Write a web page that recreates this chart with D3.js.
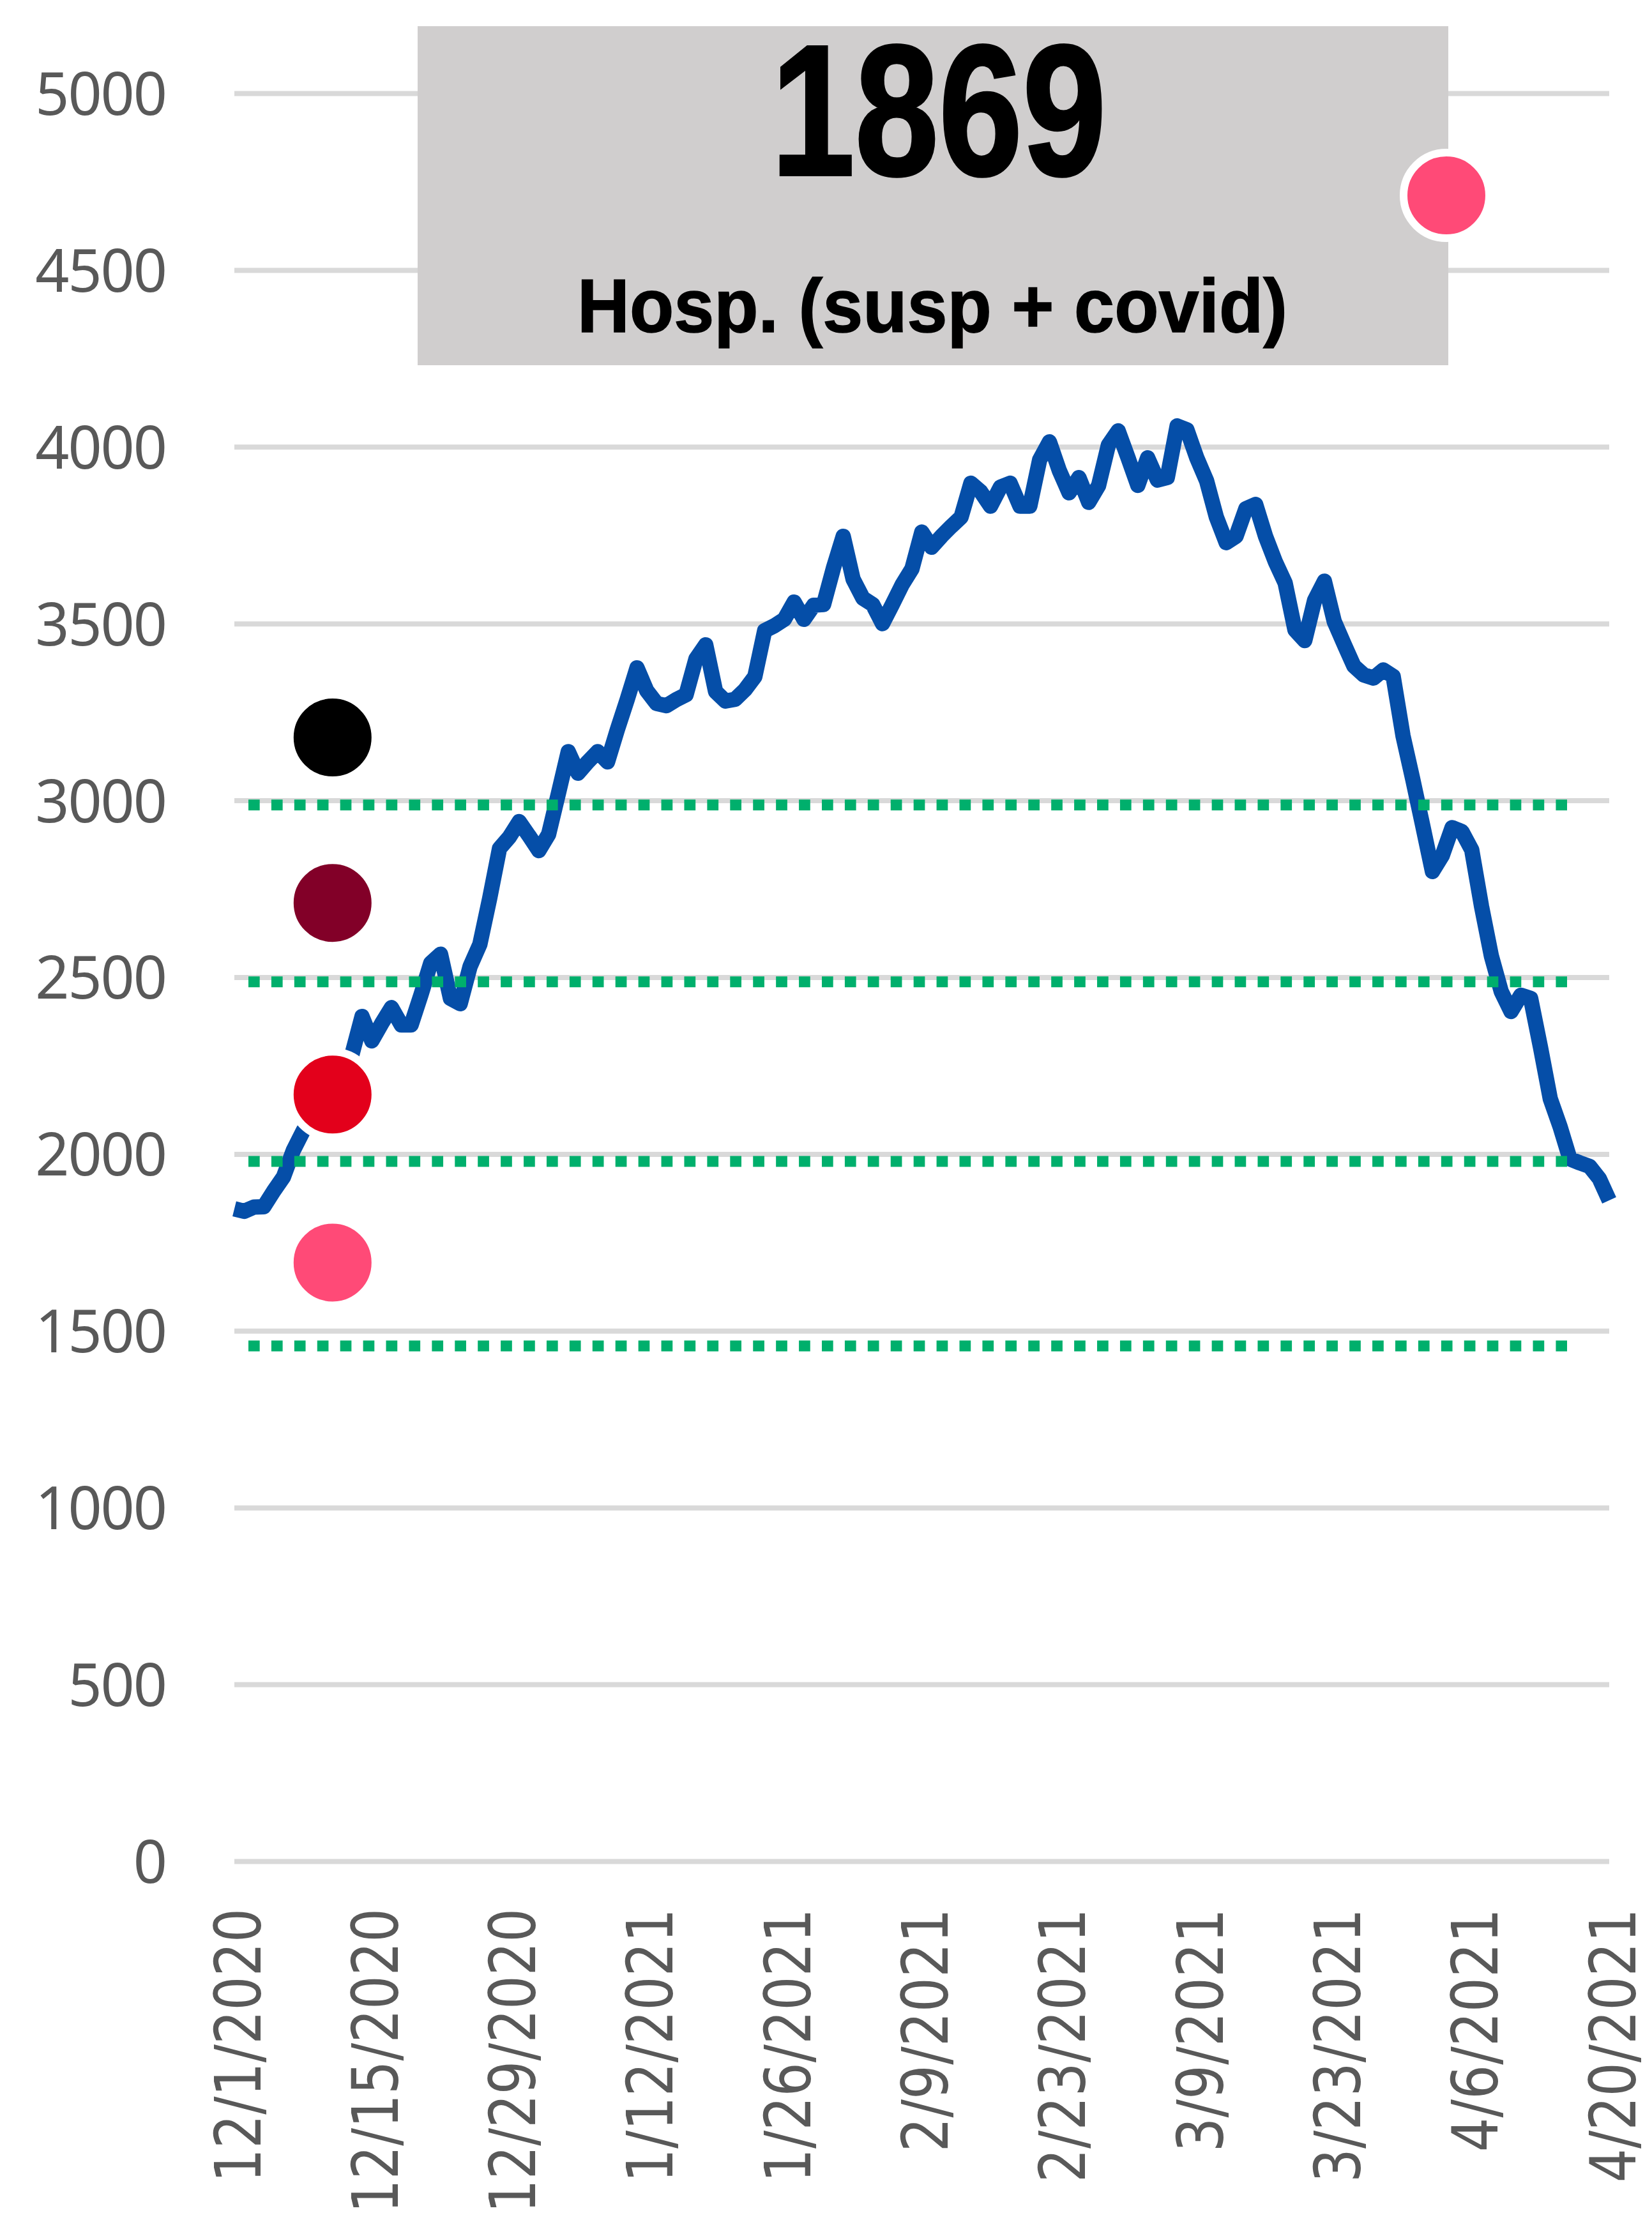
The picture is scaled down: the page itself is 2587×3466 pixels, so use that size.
<!DOCTYPE html>
<html><head><meta charset="utf-8">
<script src="https://cdn.jsdelivr.net/npm/d3@7"></script>
<style>html,body{margin:0;padding:0;background:#fff;} svg{display:block;}</style>
</head><body>
<script>
// ---------------- data ----------------
const startDate = "2020-12-01";
const hospValues = [
 1845,1838,1850,1851,1895,1935,2010,2065,2110,2150,
 2190,2235,2284,2389,2320,2369,2414,2365,2365,2450,
 2540,2565,2440,2425,2530,2593,2723,2864,2896,2940,
 2900,2858,2904,3020,3138,3077,3109,3138,3109,3200,
 3285,3375,3310,3274,3268,3285,3299,3400,3440,3308,
 3281,3286,3313,3350,3480,3494,3512,3561,3512,3552,
 3554,3657,3747,3626,3572,3554,3500,3554,3610,3655,
 3759,3716,3747,3775,3801,3897,3873,3832,3886,3897,
 3832,3832,3963,4014,3933,3870,3913,3843,3890,4005,
 4045,3969,3891,3969,3906,3913,4059,4048,3969,3904,
 3801,3729,3747,3825,3837,3747,3675,3615,3482,3452,
 3566,3620,3506,3442,3380,3355,3346,3369,3351,3183,
 3059,2930,2799,2844,2923,2912,2860,2700,2560,2460,
 2403,2449,2440,2302,2156,2077,1986,1975,1965,1930,
 1869
];
const xTickLabels = ["12/1/2020","12/15/2020","12/29/2020","1/12/2021","1/26/2021","2/9/2021","2/23/2021","3/9/2021","3/23/2021","4/6/2021","4/20/2021"];
const yTicks = [0,500,1000,1500,2000,2500,3000,3500,4000,4500,5000];
const thresholdValues = [2987, 2487, 1979, 1457];
const thresholdSpan = ["2020-12-02T10:20", "2021-04-15T17:00"];
const markerValues = [3178, 2710, 2168, 1693];
const markerColors = ["#000000", "#820028", "#e3001b", "#ff4a77"];
const markerDate = "2020-12-11T00:00";
const highlightValue = 4711;
const highlightDate = "2021-04-03T10:00";
const highlightColor = "#ff4a77";
const subtitleText = "Hosp. (susp + covid)";

(function () {
// ---------------- setup ----------------
const W = 2587, H = 3466;
const mLeft = 367, mRight = 2520, mTop = 146, mBottom = 2915;
const parseDay = d3.timeParse("%Y-%m-%d");
const parseDT = d3.timeParse("%Y-%m-%dT%H:%M");
const parseTick = d3.timeParse("%m/%d/%Y");
const t0 = parseDay(startDate);
const series = hospValues.map((v, i) => ({date: d3.timeDay.offset(t0, i), value: v}));

const x = d3.scaleTime().domain([t0, series[series.length - 1].date]).range([mLeft, mRight]);
const y = d3.scaleLinear().domain([0, 5000]).range([mBottom, mTop]);

const svg = d3.select("body").append("svg").attr("width", W).attr("height", H);

// y axis with gridlines
const yAxis = svg.append("g").attr("transform", `translate(${mLeft},0)`)
  .call(d3.axisLeft(y).tickValues(yTicks).tickSize(-(mRight - mLeft)).tickPadding(107).tickFormat(d3.format("d")));
yAxis.select(".domain").remove();
yAxis.selectAll(".tick line").attr("stroke", "#d9d9d9").attr("stroke-width", 8);
yAxis.selectAll(".tick text")
  .attr("fill", "#595959").attr("font-family", "'Noto Sans', 'Open Sans', sans-serif")
  .attr("font-size", 93).attr("letter-spacing", -2).attr("dy", "0.36em");

// line
svg.append("path").datum(series)
  .attr("fill", "none").attr("stroke", "#054ea8").attr("stroke-width", 24)
  .attr("stroke-linejoin", "round")
  .attr("d", d3.line().x(d => x(d.date)).y(d => y(d.value)));

// threshold dotted lines
svg.append("g").selectAll("line").data(thresholdValues).join("line")
  .attr("x1", x(parseDT(thresholdSpan[0]))).attr("x2", x(parseDT(thresholdSpan[1])))
  .attr("y1", d => y(d)).attr("y2", d => y(d))
  .attr("stroke", "#00af6c").attr("stroke-width", 17).attr("stroke-dasharray", "17.7 18.22");

// marker dots
svg.append("g").selectAll("circle").data(markerValues).join("circle")
  .attr("cx", x(parseDT(markerDate))).attr("cy", d => y(d)).attr("r", 67)
  .attr("fill", (d, i) => markerColors[i]).attr("stroke", "#fff").attr("stroke-width", 12);

// x axis labels
const xAxis = svg.append("g").attr("transform", "translate(0,2989)")
  .call(d3.axisBottom(x).tickValues(xTickLabels.map(parseTick)).tickSize(0).tickFormat((d, i) => xTickLabels[i]));
xAxis.select(".domain").remove();
xAxis.selectAll(".tick text")
  .attr("transform", "rotate(-90)").attr("x", 0).attr("y", 40).attr("dy", 0)
  .attr("text-anchor", "end").attr("fill", "#595959")
  .attr("font-family", "'DejaVu Sans', sans-serif").attr("font-size", 100)
  .attr("textLength", (d, i) => xTickLabels[i].length * 47.7)
  .attr("lengthAdjust", "spacingAndGlyphs");

// title box
svg.append("rect").attr("x", 654).attr("y", 41).attr("width", 1614).attr("height", 531).attr("fill", "#d0cece");
svg.append("text").attr("x", 1470).attr("y", 274).attr("text-anchor", "middle")
  .attr("font-family", "'Liberation Sans Narrow', 'Liberation Sans', Arial, sans-serif")
  .attr("font-weight", "bold").attr("font-size", 292).attr("fill", "#000")
  .attr("stroke", "#000").attr("stroke-width", 4)
  .attr("textLength", 525).attr("lengthAdjust", "spacingAndGlyphs")
  .text(String(hospValues[hospValues.length - 1]));
svg.append("text").attr("x", 1460).attr("y", 520).attr("text-anchor", "middle")
  .attr("font-family", "'Liberation Sans', Arial, sans-serif")
  .attr("font-weight", "bold").attr("font-size", 119).attr("fill", "#000")
  .attr("stroke", "#000").attr("stroke-width", 1.5)
  .attr("textLength", 1112).attr("lengthAdjust", "spacingAndGlyphs")
  .text(subtitleText);

// highlight dot
svg.append("circle").attr("cx", x(parseDT(highlightDate))).attr("cy", y(highlightValue)).attr("r", 67)
  .attr("fill", highlightColor).attr("stroke", "#fff").attr("stroke-width", 12);
})();
</script>
</body></html>
